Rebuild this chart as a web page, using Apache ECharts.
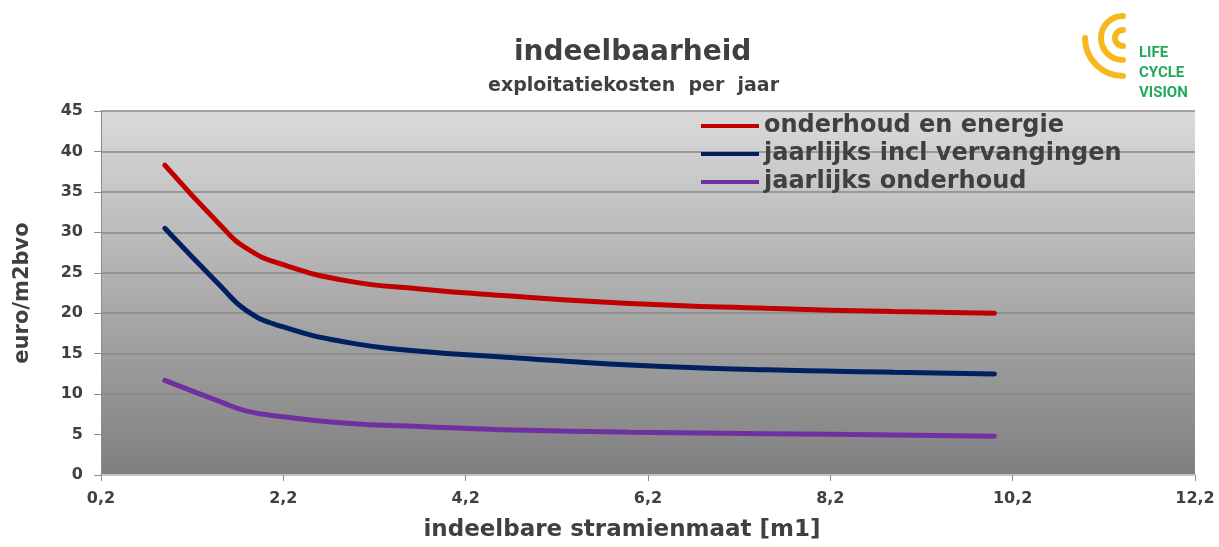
<!DOCTYPE html>
<html>
<head>
<meta charset="utf-8">
<title>indeelbaarheid</title>
<script src="https://cdn.jsdelivr.net/npm/echarts@6/dist/echarts.min.js"></script>
<style>
  html, body { margin: 0; padding: 0; background: #fff; }
  #chart { width: 1219px; height: 547px; }
</style>
</head>
<body>
<div id="chart"></div>
<script>
// stramienmaat [m1]
const xValues = [0.9, 1.5, 1.8, 2.2, 2.9, 3.7, 4.6, 6.0, 7.5, 8.9, 10.0]
// euro/m2bvo per series
const onderhoudEnergie = [38.3, 31.0, 28.0, 26.0, 24.0, 23.0, 22.2, 21.2, 20.6, 20.2, 20.0]
const inclVervangingen = [30.5, 23.5, 20.3, 18.3, 16.4, 15.3, 14.6, 13.6, 13.0, 12.7, 12.5]
const jaarlijksOnderhoud = [11.7, 9.1, 7.9, 7.2, 6.4, 6.0, 5.6, 5.3, 5.1, 4.95, 4.8]
const seriesNames = ['onderhoud en energie', 'jaarlijks incl vervangingen', 'jaarlijks onderhoud']
const seriesColors = ['#c00000', '#002060', '#7030a0']

const FONT = 'DejaVu Sans'
const TEXT = '#404040'

const chart = echarts.init(document.getElementById('chart'))

function pairs(ys) {
  return xValues.map((x, i) => [x, ys[i]])
}

// logo arcs (geel)
const logoCx = 1123
const logoCy = 38
const arc = (r, start, end) => ({
  type: 'arc',
  shape: { cx: logoCx, cy: logoCy, r: r, startAngle: start, endAngle: end, clockwise: false },
  style: { stroke: '#f6b81c', lineWidth: 6, fill: null, lineCap: 'round' }
})

const option = {
  backgroundColor: '#fff',
  animation: false,
  title: [
    {
      text: 'indeelbaarheid',
      left: 509,
      top: 34,
      textStyle: { fontFamily: FONT, fontSize: 28, fontWeight: 'bold', color: TEXT }
    },
    {
      text: 'exploitatiekosten  per  jaar',
      left: 483,
      top: 72,
      textStyle: { fontFamily: FONT, fontSize: 19, fontWeight: 'bold', color: TEXT }
    }
  ],
  legend: {
    orient: 'vertical',
    left: 696,
    top: 109,
    itemWidth: 58,
    itemHeight: 4,
    itemGap: 4,
    icon: 'rect',
    data: seriesNames,
    textStyle: { fontFamily: FONT, fontSize: 24, fontWeight: 'bold', color: TEXT, lineHeight: 24 }
  },
  grid: {
    left: 101,
    right: 24,
    top: 111,
    bottom: 71,
    show: true,
    borderWidth: 0,
    backgroundColor: {
      type: 'linear', x: 0, y: 0, x2: 0, y2: 1,
      colorStops: [
        { offset: 0, color: '#dadada' },
        { offset: 1, color: '#7f7f7f' }
      ]
    }
  },
  xAxis: {
    type: 'value',
    min: 0.2,
    max: 12.2,
    interval: 2,
    name: 'indeelbare stramienmaat [m1]',
    nameLocation: 'middle',
    nameGap: 44,
    nameTextStyle: {
      fontFamily: FONT, fontSize: 23, fontWeight: 'bold', color: TEXT,
      padding: [0, 52, 0, 0]
    },
    axisLine: { show: true, lineStyle: { color: '#c4c4c4', width: 2 } },
    axisTick: { show: true, length: 6, lineStyle: { color: '#8c8c8c' } },
    splitLine: { show: false },
    axisLabel: {
      margin: 16,
      fontFamily: FONT,
      fontSize: 16,
      fontWeight: 'bold',
      color: TEXT,
      formatter: v => v.toFixed(1).replace('.', ',')
    }
  },
  yAxis: {
    type: 'value',
    min: 0,
    max: 45,
    interval: 5,
    name: 'euro/m2bvo',
    nameLocation: 'middle',
    nameGap: 68,
    nameTextStyle: { fontFamily: FONT, fontSize: 21, fontWeight: 'bold', color: TEXT },
    axisLine: { show: true, lineStyle: { color: '#8c8c8c', width: 1 } },
    axisTick: { show: true, length: 7, lineStyle: { color: '#8c8c8c' } },
    splitLine: { lineStyle: { color: '#8a8a8a', width: 1.5 } },
    axisLabel: {
      margin: 18,
      fontFamily: FONT,
      fontSize: 16,
      fontWeight: 'bold',
      color: TEXT
    }
  },
  series: [onderhoudEnergie, inclVervangingen, jaarlijksOnderhoud].map((ys, i) => ({
    name: seriesNames[i],
    type: 'line',
    data: pairs(ys),
    smooth: 0.5,
    showSymbol: false,
    color: seriesColors[i],
    lineStyle: { color: seriesColors[i], width: 5, cap: 'round' }
  })),
  graphic: [
    arc(8, -Math.PI / 2, Math.PI / 2),
    arc(22, -Math.PI / 2, Math.PI / 2),
    arc(38, Math.PI, Math.PI / 2),
    {
      type: 'text',
      left: 1139,
      top: 43,
      style: {
        text: 'LIFE\nCYCLE\nVISION',
        fill: '#1faa59',
        font: 'bold 15px "Liberation Sans Narrow", "Roboto", sans-serif',
        lineHeight: 20
      }
    }
  ]
}

chart.setOption(option)
</script>
</body>
</html>
